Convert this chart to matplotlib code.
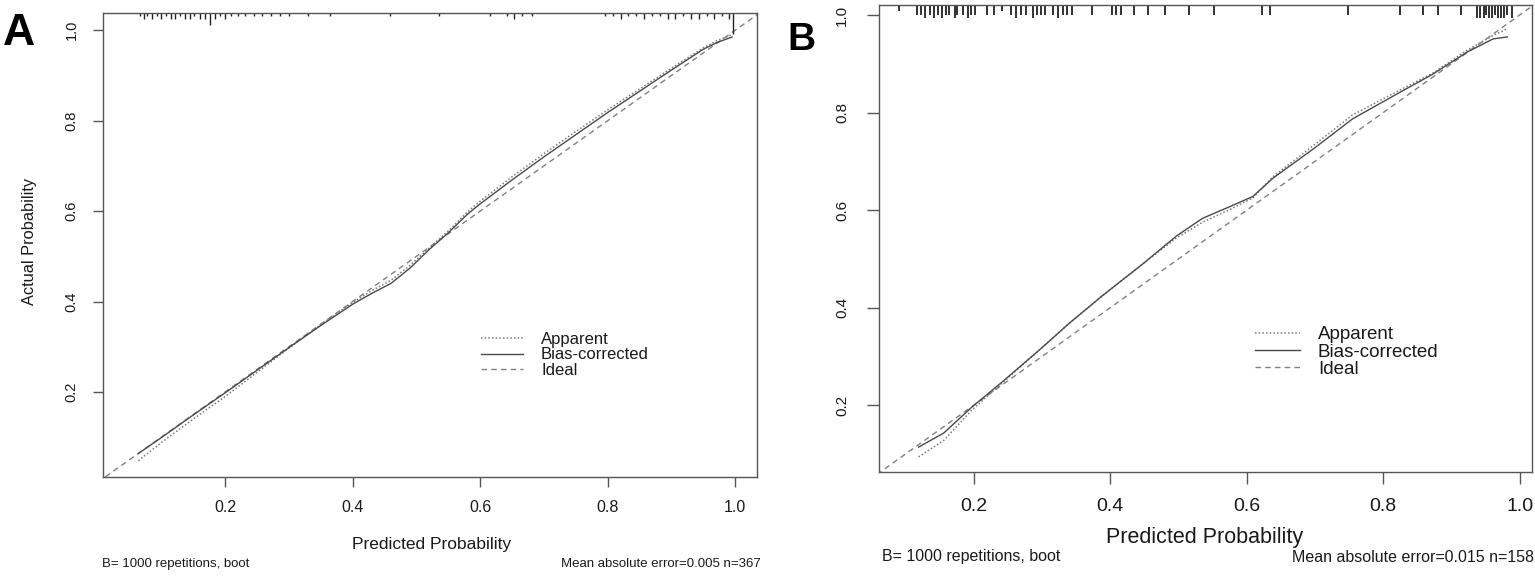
import matplotlib
matplotlib.use('Agg')
import matplotlib.pyplot as plt
from matplotlib.lines import Line2D

plt.rcParams['font.family'] = ['Liberation Sans', 'DejaVu Sans']

# ---- panel A (n=367) ----
a_x = [0.064, 0.1, 0.15, 0.2, 0.25, 0.3, 0.35, 0.4, 0.43, 0.46, 0.49, 0.52,
       0.55, 0.58, 0.6, 0.65, 0.7, 0.75, 0.8, 0.85, 0.9, 0.95, 0.97, 0.995]
a_bias = [0.064, 0.099, 0.149, 0.198, 0.248, 0.298, 0.347, 0.394, 0.418, 0.44, 0.474, 0.515,
          0.552, 0.593, 0.616, 0.669, 0.72, 0.769, 0.818, 0.865, 0.912, 0.958, 0.972, 0.985]
a_app = [0.048, 0.088, 0.14, 0.19, 0.243, 0.297, 0.349, 0.398, 0.424, 0.447, 0.48, 0.518,
         0.556, 0.598, 0.622, 0.676, 0.727, 0.776, 0.824, 0.87, 0.916, 0.961, 0.976, 0.99]
a_rug_x = [0.067, 0.073, 0.078, 0.086, 0.093, 0.100, 0.108, 0.115, 0.122, 0.130, 0.137, 0.145,
           0.152, 0.160, 0.168, 0.176, 0.184, 0.192, 0.200, 0.210, 0.220, 0.232, 0.245, 0.258,
           0.272, 0.286, 0.300, 0.330, 0.364, 0.458, 0.535, 0.616, 0.642, 0.653, 0.666, 0.681,
           0.796, 0.808, 0.820, 0.832, 0.845, 0.857, 0.870, 0.882, 0.894, 0.906, 0.918, 0.930,
           0.943, 0.955, 0.967, 0.979, 0.990, 0.997]
a_rug_n = [1, 2, 1, 2, 1, 2, 1, 2, 2, 1, 2, 2,
           1, 2, 2, 4, 2, 1, 2, 1, 1, 1, 1, 1,
           1, 1, 1, 1, 1, 1, 1, 1, 1, 2, 1, 1,
           1, 1, 2, 1, 1, 2, 1, 1, 2, 2, 1, 2,
           2, 1, 2, 1, 2, 7]
a_note_l = 'B= 1000 repetitions, boot'
a_note_r = 'Mean absolute error=0.005 n=367'

# ---- panel B (n=158) ----
b_x = [0.119, 0.156, 0.197, 0.241, 0.3, 0.339, 0.388, 0.447, 0.497, 0.535, 0.575, 0.609,
       0.638, 0.7, 0.755, 0.82, 0.873, 0.923, 0.961, 0.982]
b_bias = [0.114, 0.143, 0.196, 0.247, 0.318, 0.367, 0.424, 0.489, 0.547, 0.583, 0.607, 0.628,
          0.665, 0.728, 0.787, 0.838, 0.879, 0.924, 0.951, 0.955]
b_app = [0.094, 0.128, 0.19, 0.245, 0.318, 0.367, 0.424, 0.489, 0.543, 0.575, 0.601, 0.625,
         0.668, 0.735, 0.795, 0.843, 0.881, 0.928, 0.958, 0.972]
b_rug_x = [0.091, 0.116, 0.123, 0.129, 0.136, 0.141, 0.148, 0.153, 0.159, 0.164, 0.172, 0.176,
           0.184, 0.191, 0.196, 0.202, 0.219, 0.230, 0.241, 0.255, 0.262, 0.269, 0.277, 0.287,
           0.293, 0.298, 0.305, 0.316, 0.323, 0.330, 0.337, 0.344, 0.373, 0.402, 0.409, 0.416,
           0.434, 0.455, 0.480, 0.516, 0.552, 0.622, 0.634, 0.748, 0.824, 0.858, 0.880, 0.914,
           0.937, 0.942, 0.947, 0.951, 0.955, 0.960, 0.964, 0.968, 0.972, 0.977, 0.981, 0.988]
b_rug_n = [2, 3, 3, 4, 3, 4, 3, 4, 3, 3, 4, 3,
           3, 4, 3, 3, 3, 3, 2, 3, 4, 3, 3, 4,
           3, 3, 3, 3, 4, 3, 3, 3, 3, 3, 3, 3,
           3, 3, 3, 3, 3, 3, 3, 3, 3, 3, 3, 3,
           4, 4, 4, 3, 4, 4, 3, 4, 4, 4, 3, 4]
b_note_l = 'B= 1000 repetitions, boot'
b_note_r = 'Mean absolute error=0.015 n=158'

labels = ['Apparent', 'Bias-corrected', 'Ideal']
ticks = [0.2, 0.4, 0.6, 0.8, 1.0]

W, H = 1535, 576
fig = plt.figure(figsize=(W / 100, H / 100), dpi=100)

axA = fig.add_axes([103 / W, 1 - 477 / H, 654 / W, 464 / H])
axB = fig.add_axes([879 / W, 1 - 472 / H, 653 / W, 467 / H])

ink = '#1a1a1a'
frame = '#555555'


def panel(ax, x, app, bias, rug_x, rug_n, xlim, ylim, rug_unit, rug_lw,
          xfs, yfs, tlen, xpad, ypad, leg_fs, leg_xy, hl, htp, lsp):
    ax.plot([0, 1.2], [0, 1.2], color='#808080', lw=1.0, ls=(0, (4, 3)))
    ax.plot(x, app, color='#7a7a7a', lw=1.1, ls=(0, (1, 1.4)))
    ax.plot(x, bias, color='#4a4a4a', lw=1.0)
    # rug on the top edge, length by frequency
    h_px = ax.get_position().height * H
    ax.vlines(rug_x, [1 - n * rug_unit / h_px for n in rug_n], 1,
              transform=ax.get_xaxis_transform(), color='#222222', lw=rug_lw)
    ax.set_xlim(*xlim)
    ax.set_ylim(*ylim)
    ax.set_xticks(ticks)
    ax.set_yticks(ticks)
    ax.set_xticklabels(['%.1f' % t for t in ticks])
    ax.set_yticklabels(['%.1f' % t for t in ticks], rotation=90, va='center')
    ax.tick_params(axis='x', length=tlen, width=1, color=frame, pad=xpad,
                   labelsize=xfs, labelcolor=ink)
    ax.tick_params(axis='y', length=tlen, width=1, color=frame, pad=ypad,
                   labelsize=yfs, labelcolor=ink)
    for s in ax.spines.values():
        s.set_color(frame)
        s.set_linewidth(1.0)
    handles = [Line2D([], [], color='#7a7a7a', lw=1.1, ls=(0, (1, 1.4))),
               Line2D([], [], color='#4a4a4a', lw=1.0),
               Line2D([], [], color='#808080', lw=1.0, ls=(0, (4, 3)))]
    ax.legend(handles, labels, loc='center left', bbox_to_anchor=leg_xy,
              frameon=False, fontsize=leg_fs, handlelength=hl, handletextpad=htp,
              labelspacing=lsp, borderpad=0, borderaxespad=0, labelcolor=ink)


panel(axA, a_x, a_app, a_bias, a_rug_x, a_rug_n, (0.0086, 1.034), (0.012, 1.038),
      3.0, 1.0, 11.5, 10.5, 7, 9.5, 10.5, 12, (0.578, 0.263), 2.5, 1.1, 0.05)
panel(axB, b_x, b_app, b_bias, b_rug_x, b_rug_n, (0.061, 1.018), (0.063, 1.0205),
      3.2, 1.3, 14, 11, 8.5, 10, 13, 13.5, (0.576, 0.257), 2.4, 0.95, 0.0)

# axis titles and notes
fig.text(432 / W, 1 - 544 / H, 'Predicted Probability', ha='center', va='center',
         fontsize=12.5, color=ink)
fig.text(30 / W, 1 - 241 / H, 'Actual Probability', ha='center', va='center',
         rotation=90, fontsize=11.8, color=ink)
fig.text(102 / W, 1 - 564 / H, a_note_l, ha='left', va='center', fontsize=9.5, color=ink)
fig.text(761 / W, 1 - 564 / H, a_note_r, ha='right', va='center', fontsize=9.5, color=ink)

fig.text(1205 / W, 1 - 537 / H, 'Predicted Probability', ha='center', va='center',
         fontsize=15.5, color=ink)
fig.text(882 / W, 1 - 557 / H, b_note_l, ha='left', va='center', fontsize=11.5, color=ink)
fig.text(1534 / W, 1 - 557 / H, b_note_r, ha='right', va='center', fontsize=11.5, color=ink)

# panel letters
fig.text(3 / W, 1 - 45 / H, 'A', ha='left', va='baseline', fontsize=32,
         fontweight='bold', color='black')
fig.text(787 / W, 1 - 50 / H, 'B', ha='left', va='baseline', fontsize=28,
         fontweight='bold', color='black')

fig.savefig('out.png', dpi=100)
